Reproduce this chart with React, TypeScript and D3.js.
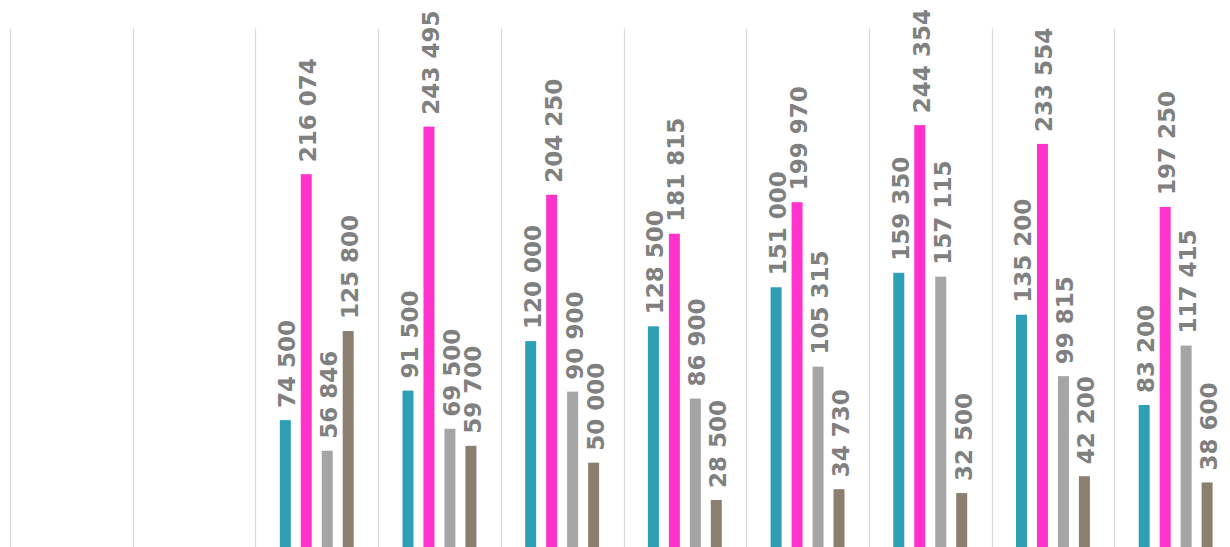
import React from "react";
import * as d3 from "d3";

const categories = ["C1", "C2", "C3", "C4", "C5", "C6", "C7", "C8", "C9", "C10"];
const seriesNames = ["S1", "S2", "S3", "S4"];
const s1: (number | null)[] = [null, null, 74500, 91500, 120000, 128500, 151000, 159350, 135200, 83200];
const s2: (number | null)[] = [null, null, 216074, 243495, 204250, 181815, 199970, 244354, 233554, 197250];
const s3: (number | null)[] = [null, null, 56846, 69500, 90900, 86900, 105315, 157115, 99815, 117415];
const s4: (number | null)[] = [null, null, 125800, 59700, 50000, 28500, 34730, 32500, 42200, 38600];
const colors = ["#2e9fb5", "#ff33cc", "#a5a5a5", "#8b806f"];
const yTicks = [0, 300000];

const W = 1230;
const H = 547;

export default function App() {
  const series = [s1, s2, s3, s4];
  const x0 = d3.scaleBand<string>().domain(categories).range([10, 10 + 10 * 122.7]).padding(0);
  const bw = x0.bandwidth();
  const gap = 24.4;
  const x1 = d3
    .scaleBand<string>()
    .domain(seriesNames)
    .range([gap, bw - gap])
    .paddingInner(0.476)
    .paddingOuter(0);
  const y = d3.scaleLinear().domain([yTicks[0], yTicks[1]]).range([549.5, 28.5]);
  const fmt = (v: number) => d3.format(",")(v).replace(/,/g, " ");
  const boundaries = categories.map((c) => x0(c)!).concat([x0.range()[1]]);

  return (
    <svg
      width={W}
      height={H}
      style={{ position: "absolute", left: 0, top: 0, background: "#fff" }}
    >
      {boundaries.map((bx, i) => (
        <line
          key={"g" + i}
          x1={Math.round(bx) + 0.5}
          x2={Math.round(bx) + 0.5}
          y1={y(yTicks[1])}
          y2={y(0)}
          stroke="#d9d9d9"
          strokeWidth={1.2}
        />
      ))}
      {categories.map((c, ci) => (
        <g key={c} transform={`translate(${x0(c)},0)`}>
          {series.map((s, si) => {
            const v = s[ci];
            if (v == null) return null;
            const bx = x1(seriesNames[si])!;
            const w = x1.bandwidth();
            const top = y(v);
            const cx = bx + w / 2;
            return (
              <g key={si}>
                <rect x={bx} y={top} width={w} height={y(0) - top} fill={colors[si]} />
                <text
                  transform={`translate(${cx + 10},${top - 12}) rotate(-90)`}
                  fontFamily="'DejaVu Sans', Verdana, sans-serif"
                  fontWeight="bold"
                  fontSize={23}
                  fill="#808080"
                  textAnchor="start"
                >
                  {fmt(v)}
                </text>
              </g>
            );
          })}
        </g>
      ))}
    </svg>
  );
}
